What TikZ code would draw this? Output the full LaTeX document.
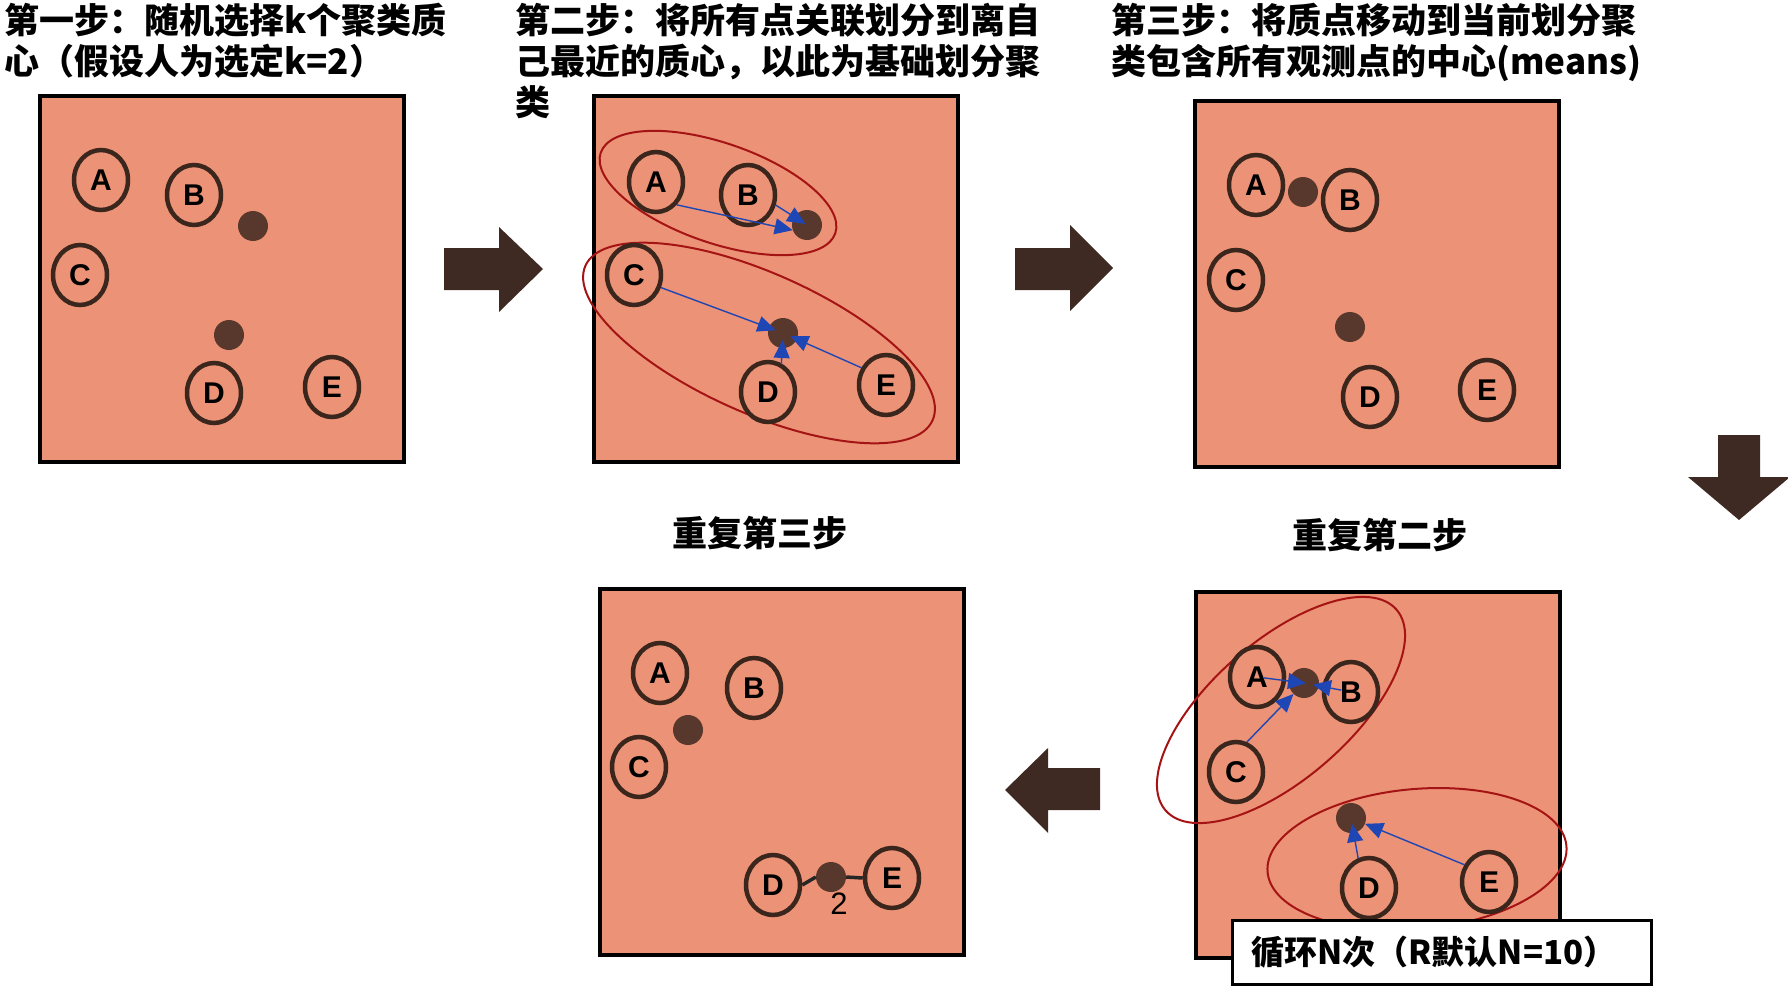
\documentclass[tikz,border=0pt]{standalone}
\usepackage{fontspec}
\newfontfamily\cjk{Noto Sans CJK SC}
\newfontfamily\lat{Liberation Sans}
\usetikzlibrary{shapes.geometric,arrows.meta,calc}
\definecolor{panelfill}{RGB}{236,146,118}
\definecolor{ptbrown}{RGB}{58,38,28}
\definecolor{cenbrown}{RGB}{88,56,44}
\definecolor{arrowbrown}{RGB}{62,42,34}
\definecolor{grpred}{RGB}{165,20,20}
\definecolor{barblue}{RGB}{30,70,180}
\begin{document}
\begin{tikzpicture}[x=1pt,y=-1pt,
  panel/.style={draw=black,line width=3.5pt,fill=panelfill,minimum width=364pt,minimum height=366pt,anchor=north west,inner sep=0pt},
  pnt/.style={ellipse,draw=ptbrown,line width=4.5pt,minimum width=54pt,minimum height=60pt,inner sep=0pt,font=\lat\bfseries\fontsize{30}{30}\selectfont},
  cen/.style={circle,fill=cenbrown,minimum size=30pt,inner sep=0pt},
  grp/.style={ellipse,draw=grpred,line width=2pt,inner sep=0pt},
  bar/.style={draw=barblue,line width=1.4pt,-{Triangle[length=18pt,width=16pt]}},
  ttl/.style={font=\cjk\bfseries\fontsize{35}{41}\selectfont,align=left,anchor=base west,inner sep=0pt},
  sub/.style={font=\cjk\bfseries\fontsize{35}{41}\selectfont,anchor=base,inner sep=0pt},
  blk/.style={fill=arrowbrown},
  dline/.style={draw=black!85,line width=3.5pt},
  lbox/.style={draw=black,line width=2.5pt,fill=white,minimum height=64pt,text width=381pt,inner xsep=19pt,inner ysep=0pt,align=left,anchor=north west,font=\cjk\bfseries\fontsize{33}{33}\selectfont}
]
\useasboundingbox (0,0) rectangle (1788,990);

% titles
\node[ttl,text width=470pt] (t1) at (4,34) {第一步：随机选择k个聚类质\\心（假设人为选定k=2）};
\node[ttl,text width=540pt] (t2) at (515,34) {第二步：将所有点关联划分到离自\\己最近的质心，以此为基础划分聚\\类};
\node[ttl,text width=560pt] (t3) at (1111,34) {第三步：将质点移动到当前划分聚\\类包含所有观测点的中心(means)};
\node[sub] (t5) at (760,546) {重复第三步};
\node[sub] (t4) at (1380,548) {重复第二步};

% panels
\node[panel] (P1) at (38,94) {};
\node[panel] (P2) at (592,94) {};
\node[panel] (P3) at (1193,99) {};
\node[panel] (P4) at (1194,590) {};
\node[panel] (P5) at (598,587) {};

% panel 1
\node[pnt] (A1) at (101,180) {A};
\node[pnt] (B1) at (194,195) {B};
\node[pnt] (C1) at (80,275) {C};
\node[pnt] (D1) at (214,393) {D};
\node[pnt] (E1) at (332,387) {E};
\node[cen] (c11) at (253,226) {};
\node[cen] (c12) at (229,335) {};

% panel 2
\node[grp,minimum width=248pt,minimum height=100pt,rotate=-19] (g21) at (718,193) {};
\node[grp,minimum width=380pt,minimum height=140pt,rotate=-24] (g22) at (759,343) {};
\node[pnt] (A2) at (656,182) {A};
\node[pnt] (B2) at (748,195) {B};
\node[pnt] (C2) at (634,275) {C};
\node[pnt] (D2) at (768,392) {D};
\node[pnt] (E2) at (886,385) {E};
\node[cen] (c21) at (807,225) {};
\node[cen] (c22) at (783,333) {};
\draw[bar] (A2.south east) -- (c21.200);
\draw[bar,shorten >=2pt] (B2.-20) -- (c21.center);
\draw[bar,shorten >=8pt] (C2.-25) -- (c22.center);
\draw[bar,shorten >=7pt] (D2.65) -- (c22.center);
\draw[bar,shorten >=8pt] (E2.145) -- (c22.center);

% panel 3
\node[pnt] (A3) at (1256,185) {A};
\node[pnt] (B3) at (1350,200) {B};
\node[pnt] (C3) at (1236,280) {C};
\node[pnt] (D3) at (1370,397) {D};
\node[pnt] (E3) at (1487,390) {E};
\node[cen] (c31) at (1303,192) {};
\node[cen] (c32) at (1350,327) {};

% panel 4 (repeat step 2)
\node[grp,minimum width=306pt,minimum height=138pt,rotate=41] (g41) at (1281,710) {};
\node[grp,minimum width=300pt,minimum height=140pt,rotate=5] (g42) at (1417,859) {};
\node[pnt] (A4) at (1257,677) {A};
\node[pnt] (B4) at (1351,692) {B};
\node[pnt] (C4) at (1236,772) {C};
\node[pnt] (D4) at (1369,888) {D};
\node[pnt] (E4) at (1489,882) {E};
\node[cen] (c41) at (1304,683) {};
\node[cen] (c42) at (1351,818) {};
\draw[bar,shorten <=7pt,shorten >=-2pt] (A4.center) -- (c41.center);
\draw[bar,shorten <=10pt,shorten >=9pt] (B4.center) -- (c41.center);
\draw[bar] (C4.70) -- (c41);
\draw[bar,shorten >=6pt] (D4.110) -- (c42.center);
\draw[bar] (E4.145) -- (c42);

% panel 5 (repeat step 3)
\node[pnt] (A5) at (660,673) {A};
\node[pnt] (B5) at (754,688) {B};
\node[pnt] (C5) at (639,767) {C};
\node[pnt] (D5) at (773,885) {D};
\node[pnt] (E5) at (892,878) {E};
\node[cen] (c51) at (688,730) {};
\node[cen] (c52) at (831,877) {};
\draw[dline] (D5.east) -- (c52.west);
\draw[dline] (c52.east) -- (E5.west);
\node[font=\lat\fontsize{31}{31}\selectfont,inner sep=0pt] (two) at (839,904) {2};

% block arrows
\fill[blk] (444,248) -- (499,248) -- (499,227) -- (543,269) -- (499,312) -- (499,290) -- (444,290) -- cycle;
\fill[blk] (1015,248) -- (1070,248) -- (1070,225) -- (1113,268) -- (1070,311) -- (1070,290) -- (1015,290) -- cycle;
\fill[blk] (1718,435) -- (1760,435) -- (1760,477) -- (1790,477) -- (1739,520) -- (1688,477) -- (1718,477) -- cycle;
\fill[blk] (1100,768) -- (1048,768) -- (1048,748) -- (1005,790) -- (1048,833) -- (1048,810) -- (1100,810) -- cycle;

% loop label
\node[lbox] (loop) at (1231,919) {循环N次（R默认N=10）};
\end{tikzpicture}
\end{document}
